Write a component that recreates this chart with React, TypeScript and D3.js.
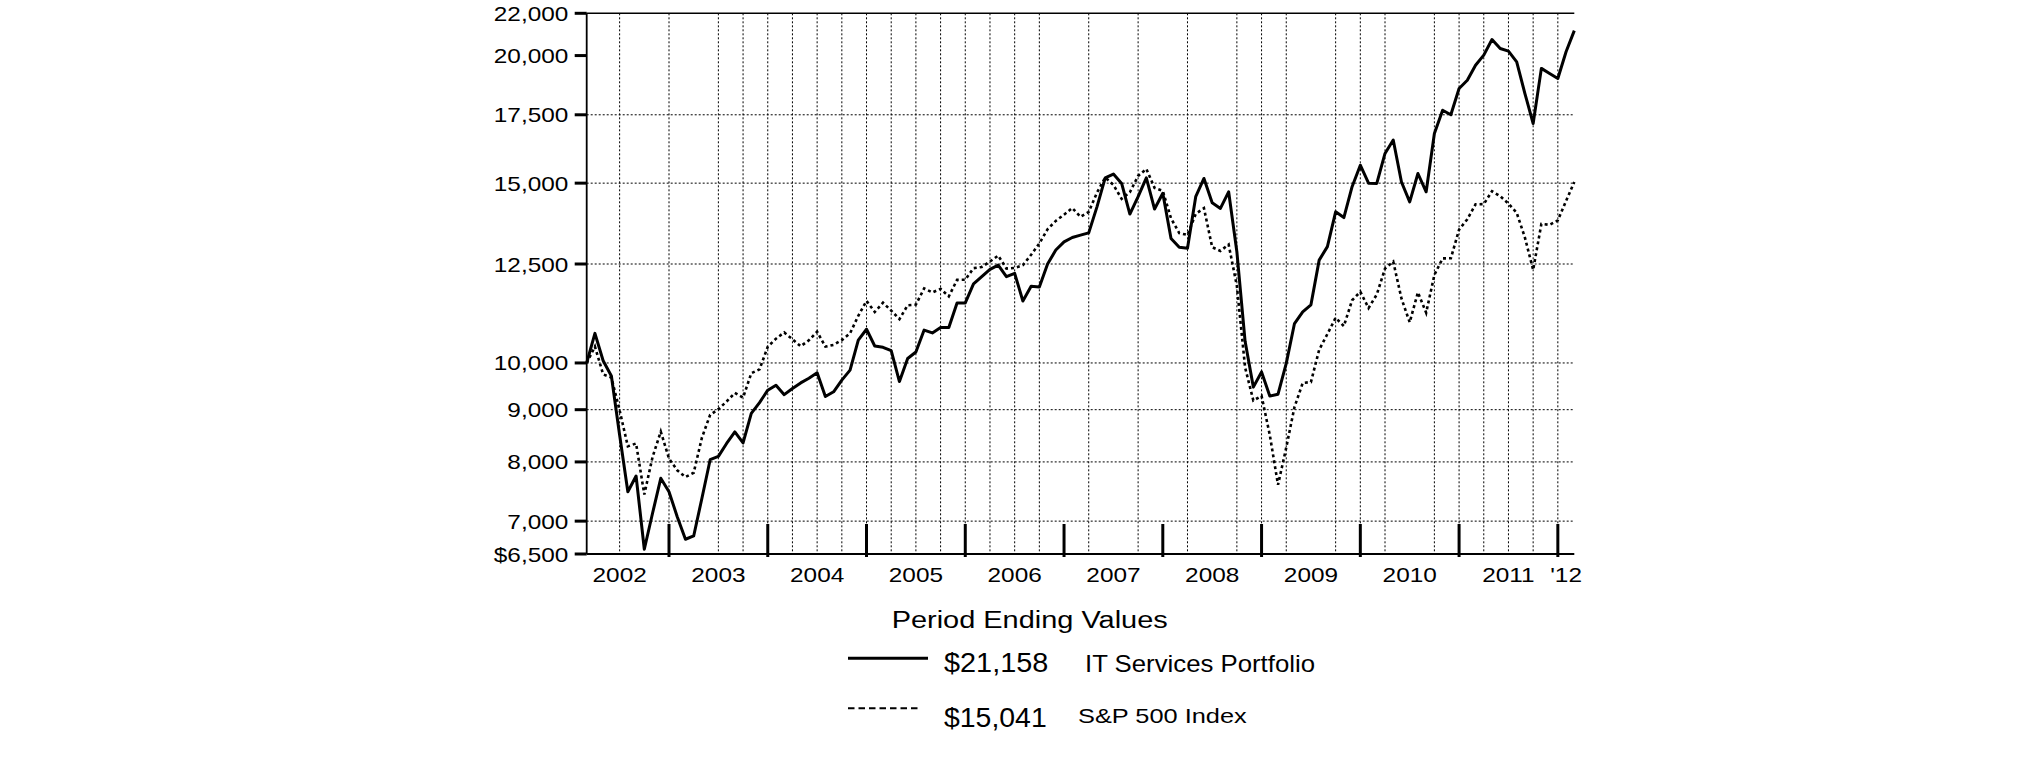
import React from "react";
import * as d3 from "d3";

// Month index 0 = Feb 2002 ... 120 = Feb 2012
const itServices = [
  10000, 10690, 10050, 9710, 8500, 7480, 7750, 6570, 7125, 7710, 7480,
  7070, 6720, 6770, 7370, 8040, 8100, 8340, 8560, 8350, 8925, 9145, 9405,
  9510, 9310, 9440, 9560, 9660, 9780, 9270, 9370, 9620, 9840, 10530, 10790,
  10390, 10360, 10280, 9590, 10100, 10250, 10770, 10700, 10830, 10830, 11450, 11450,
  11950, 12150, 12350, 12470, 12150, 12240, 11500, 11890, 11870, 12500, 12900, 13140,
  13270, 13340, 13410, 14220, 15180, 15310, 14990, 13990, 14550, 15180, 14150, 14660,
  13240, 12980, 12950, 14550, 15160, 14350, 14170, 14710, 12850, 10500, 9470, 9800,
  9280, 9320, 9990, 10930, 11220, 11400, 12610, 13000, 14060, 13880, 14880, 15620,
  15000, 14990, 16040, 16530, 15040, 14380, 15330, 14710, 16780, 17680, 17500, 18570,
  18920, 19570, 20020, 20740, 20320, 20200, 19720, 18360, 17160, 19430, 19210, 18990,
  20170, 21158,
];

const sp500 = [
  10000, 10376, 9747, 9675, 8986, 8286, 8340, 7434, 8088, 8565, 8061,
  7850, 7732, 7807, 8450, 8896, 9010, 9168, 9347, 9248, 9771, 9857, 10373,
  10564, 10711, 10549, 10383, 10525, 10730, 10375, 10416, 10529, 10690, 11123, 11501,
  11220, 11456, 11253, 11039, 11390, 11406, 11830, 11723, 11818, 11620, 12060, 12064,
  12383, 12417, 12571, 12739, 12373, 12390, 12467, 12763, 13093, 13520, 13777, 13970,
  14181, 13903, 14059, 14682, 15194, 14942, 14479, 14696, 15246, 15488, 14841, 14738,
  13854, 13404, 13346, 13996, 14178, 12983, 12874, 13061, 11897, 9898, 9188, 9285,
  8502, 7597, 8262, 9053, 9559, 9578, 10302, 10674, 11072, 10866, 11518, 11740,
  11318, 11669, 12372, 12568, 11564, 10959, 11727, 11198, 12197, 12660, 12662, 13507,
  13827, 14301, 14307, 14730, 14564, 14321, 14030, 13268, 12335, 13683, 13653, 13792,
  14410, 15041,
];

const yTicks = [6500, 7000, 8000, 9000, 10000, 12500, 15000, 17500, 20000, 22000];
const yTickLabels = ["$6,500", "7,000", "8,000", "9,000", "10,000", "12,500", "15,000", "17,500", "20,000", "22,000"];
const yGrid = [7000, 8000, 9000, 10000, 12500, 15000, 17500];

const xGridMonths = [4, 10, 16, 19, 22, 25, 28, 31, 34, 37, 40, 43, 46, 49, 52, 55, 61, 67, 73, 79, 82, 85, 91, 94, 97, 103, 106, 109, 112, 115, 118];
const yearEndMonths = [10, 22, 34, 46, 58, 70, 82, 94, 106, 118];
const yearLabels = ["2002", "2003", "2004", "2005", "2006", "2007", "2008", "2009", "2010", "2011", "'12"];
const yearLabelMonths = [4, 16, 28, 40, 52, 64, 76, 88, 100, 112, 119];

const legendTitle = "Period Ending Values";
const legendValues = ["$21,158", "$15,041"];
const legendNames = ["IT Services Portfolio", "S&P 500 Index"];

const FONT = "'Liberation Sans', Arial, Helvetica, sans-serif";

export default function App() {
  const W = 2025, H = 761;
  const left = 586.7, right = 1574.3, top = 13.3, bottom = 554;
  const x = d3.scaleLinear().domain([0, 120]).range([left, right]);
  const y = d3.scaleLog().domain([6500, 22000]).range([bottom, top]);
  const line = d3.line<number>().x((_, i) => x(i)).y((d) => y(d));

  const sx = 1.16;

  return (
    <svg width={W} height={H} style={{ position: "absolute", left: 0, top: 0, background: "#fff" }} fontFamily={FONT}>
      <rect x={0} y={0} width={W} height={H} fill="#fff" />
      {/* horizontal grid */}
      {yGrid.map((v) => (
        <line key={"hg" + v} x1={left} x2={right} y1={y(v)} y2={y(v)} stroke="#000" strokeWidth={1} strokeDasharray="2,2" />
      ))}
      {/* vertical grid */}
      {xGridMonths.map((m) => (
        <line key={"vg" + m} x1={x(m)} x2={x(m)} y1={top} y2={bottom} stroke="#000" strokeWidth={1} strokeDasharray="2,2" />
      ))}
      {/* top border */}
      <line x1={left} x2={right} y1={top} y2={top} stroke="#000" strokeWidth={1.5} />
      {/* axes */}
      <line x1={left} x2={left} y1={top} y2={bottom} stroke="#000" strokeWidth={1.8} />
      <line x1={left} x2={right} y1={bottom} y2={bottom} stroke="#000" strokeWidth={1.8} />
      {/* y ticks */}
      {yTicks.map((v, i) => (
        <g key={"yt" + v}>
          <line x1={left - 12} x2={left} y1={y(v)} y2={y(v)} stroke="#000" strokeWidth={3} />
          <text transform={`translate(${568.3},${y(v) + 7.5}) scale(${sx},1)`} textAnchor="end" fontSize={21} fill="#000">
            {yTickLabels[i]}
          </text>
        </g>
      ))}
      {/* year ticks */}
      {yearEndMonths.map((m) => (
        <line key={"ye" + m} x1={x(m)} x2={x(m)} y1={bottom - 30} y2={bottom + 3} stroke="#000" strokeWidth={3} />
      ))}
      {yearLabels.map((lab, i) => (
        <text key={"yl" + lab} transform={`translate(${x(yearLabelMonths[i])},${582}) scale(${sx},1)`} textAnchor="middle" fontSize={21} fill="#000">
          {lab}
        </text>
      ))}
      {/* series */}
      <path d={line(sp500) || ""} fill="none" stroke="#000" strokeWidth={2.6} strokeDasharray="3,3" />
      <path d={line(itServices) || ""} fill="none" stroke="#000" strokeWidth={3} strokeLinejoin="round" />

      {/* legend */}
      <text x={891.7} y={628.3} fontSize={23} textLength={276} lengthAdjust="spacingAndGlyphs" fill="#000">{legendTitle}</text>
      <line x1={848} x2={928} y1={658.3} y2={658.3} stroke="#000" strokeWidth={3} />
      <text x={944} y={672.3} fontSize={27} textLength={104.3} lengthAdjust="spacingAndGlyphs" fill="#000">{legendValues[0]}</text>
      <text x={1085} y={672.3} fontSize={24} textLength={230} lengthAdjust="spacingAndGlyphs" fill="#000">{legendNames[0]}</text>
      <line x1={848} x2={920} y1={708.3} y2={708.3} stroke="#000" strokeWidth={2} strokeDasharray="6.5,4" />
      <text x={944} y={726.7} fontSize={27} textLength={102.7} lengthAdjust="spacingAndGlyphs" fill="#000">{legendValues[1]}</text>
      <text x={1078} y={723.3} fontSize={21} textLength={168.7} lengthAdjust="spacingAndGlyphs" fill="#000">{legendNames[1]}</text>
    </svg>
  );
}
